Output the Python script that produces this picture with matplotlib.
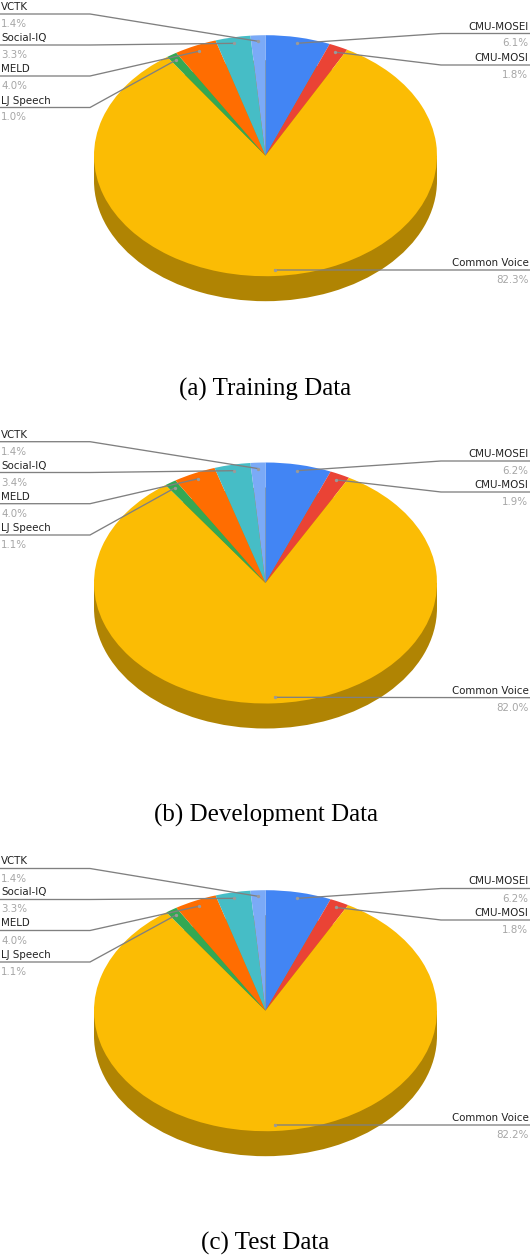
import numpy as np
import matplotlib
matplotlib.use('Agg')
import matplotlib.pyplot as plt
from matplotlib.patches import Rectangle

names = ['CMU-MOSEI', 'CMU-MOSI', 'Common Voice', 'LJ Speech', 'MELD', 'Social-IQ', 'VCTK']
colors = ['#4285f4', '#ea4335', '#fbbc04', '#34a853', '#ff6d01', '#46bdc6', '#7baaf7']
side_color = '#b08403'

train_values = [6.1, 1.8, 82.3, 1.0, 4.0, 3.3, 1.4]
dev_values = [6.2, 1.9, 82.0, 1.1, 4.0, 3.4, 1.4]
test_values = [6.2, 1.8, 82.2, 1.1, 4.0, 3.3, 1.4]

captions = ['(a) Training Data', '(b) Development Data', '(c) Test Data']
caption_y = [389.5, 815.5, 1243.5]
centers_y = [155.7, 583, 1010.7]

# y of the label underline (pixels from top), same order as names
line_y_a = [33.5, 65, 270, 107.5, 76, 45, 14]
line_y_b = [461, 492, 697.7, 535, 503.7, 472.5, 441.7]
line_y_c = [888.5, 920, 1125, 962, 930.5, 899.5, 868.5]

W, H = 530, 1256
cx, rx, ry, depth = 265.5, 171.5, 120.5, 25

fig = plt.figure(figsize=(W / 100, H / 100), dpi=100)

# overlay in pixel coordinates for leaders and text
over = fig.add_axes([0, 0, 1, 1], zorder=5)
over.set_xlim(0, W)
over.set_ylim(H, 0)
over.axis('off')


def draw_panel(values, cy, line_y, caption, cap_y):
    pad = 1.05
    low = pad + depth / ry
    ax = fig.add_axes([(cx - pad * rx) / W, (H - cy - low * ry) / H,
                       2 * pad * rx / W, (pad + low) * ry / H])
    ax.pie([1], colors=[side_color], center=(0, -depth / ry), radius=1, wedgeprops={'linewidth': 0})
    ax.add_patch(Rectangle((-1, -depth / ry), 2, depth / ry, color=side_color, lw=0))
    ax.pie(values, colors=colors, startangle=90, counterclock=False, wedgeprops={'linewidth': 0})
    ax.set_aspect('auto')
    ax.set_xlim(-pad, pad)
    ax.set_ylim(-low, pad)

    total = sum(values)
    mids = (np.cumsum(values) - np.array(values) / 2) / total * 2 * np.pi
    for name, val, mid, ly in zip(names, values, mids, line_y):
        ax_x = cx + 0.95 * rx * np.sin(mid)
        ax_y = cy - 0.95 * ry * np.cos(mid)
        if name == 'Common Voice':
            xs, ys = [ax_x, W], [ax_y, ly]
        elif np.sin(mid) > 0:
            xs, ys = [ax_x, 441, W], [ax_y, ly, ly]
        else:
            xs, ys = [ax_x, 90, 0], [ax_y, ly, ly]
        over.plot(xs, ys, color='#808080', lw=0.95, solid_joinstyle='miter')
        over.plot([ax_x], [ax_y], 'o', color='#9a9a9a', ms=2.4, mew=0)
        if np.sin(mid) > 0:
            tx, ha = W - 1.5, 'right'
        else:
            tx, ha = 1, 'left'
        over.text(tx, ly - 4, name, ha=ha, va='baseline', fontsize=7.4,
                  color='#222222', family='DejaVu Sans')
        over.text(tx, ly + 13, '%.1f%%' % val, ha=ha, va='baseline', fontsize=7.4,
                  color='#a6a6a6', family='DejaVu Sans')

    over.text(cx, cap_y, caption, ha='center', va='center', fontsize=18,
              color='black', family='Liberation Serif')


draw_panel(train_values, centers_y[0], line_y_a, captions[0], caption_y[0])
draw_panel(dev_values, centers_y[1], line_y_b, captions[1], caption_y[1])
draw_panel(test_values, centers_y[2], line_y_c, captions[2], caption_y[2])

fig.savefig('out.png', dpi=100)
